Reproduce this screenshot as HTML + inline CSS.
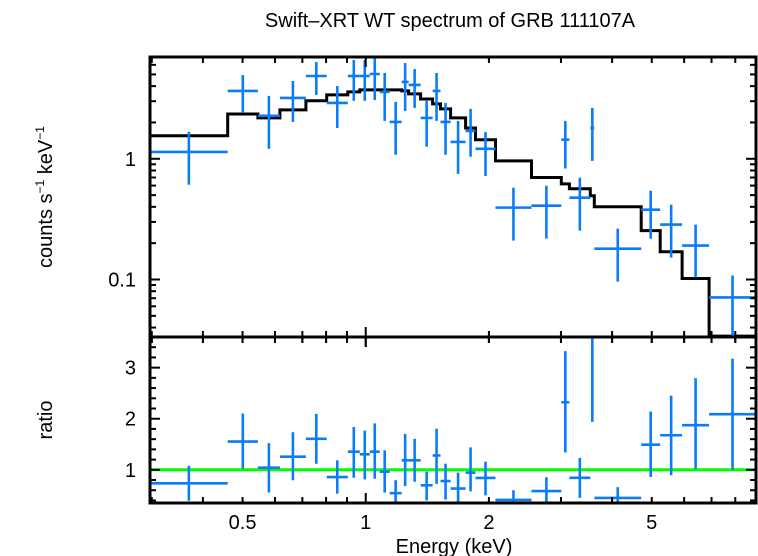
<!DOCTYPE html>
<html><head><meta charset="utf-8"><style>
html,body{margin:0;padding:0;background:#fff;}
svg{display:block;font-family:"Liberation Sans",sans-serif;}
</style></head><body>
<svg id="chart" width="758" height="556" viewBox="0 0 758 556">
<text x="450" y="27" text-anchor="middle" font-size="20">Swift–XRT WT spectrum of GRB 111107A</text>
<text transform="translate(52,197) rotate(-90)" text-anchor="middle" font-size="20">counts s<tspan font-size="12" dy="-8">−1</tspan><tspan dy="8"> keV</tspan><tspan font-size="12" dy="-8">−1</tspan></text>
<text transform="translate(52,420) rotate(-90)" text-anchor="middle" font-size="20">ratio</text>
<text x="454" y="553" text-anchor="middle" font-size="20">Energy (keV)</text>
<g id="plot"></g>
</svg>
<script>
// bin edges (keV)
const binEdges = [0.297,0.460,0.545,0.617,0.714,0.803,0.904,0.967,1.023,1.082,1.144,1.224,1.273,1.362,1.457,1.523,1.612,1.754,1.855,2.075,2.541,3.006,3.145,3.539,3.619,4.712,5.243,5.932,6.903,8.99];
// data counts s^-1 keV^-1
const dataVals = [1.14,3.65,2.27,3.19,4.85,2.90,4.85,4.85,5.04,3.58,2.02,4.33,4.09,2.18,3.65,2.02,1.38,1.70,1.21,0.394,0.409,1.44,0.476,1.80,0.180,0.379,0.285,0.191,0.071];
const dataHi = [1.67,4.94,3.32,4.41,6.33,4.01,6.58,6.58,7.10,5.14,2.96,6.21,5.54,3.02,5.14,2.90,2.06,2.59,1.67,0.576,0.598,2.06,0.697,2.64,0.264,0.544,0.417,0.285,0.108];
const dataLo = [0.61,2.40,1.21,2.02,3.38,1.80,3.02,3.02,3.07,2.06,1.08,2.49,2.64,1.26,2.06,1.08,0.75,1.04,0.72,0.210,0.218,0.83,0.254,0.96,0.096,0.218,0.152,0.104,0.034];
// folded model per bin
const modelVals = [1.55,2.35,2.18,2.54,3.02,3.38,3.58,3.72,3.72,3.72,3.72,3.65,3.45,3.13,2.85,2.59,2.18,1.80,1.44,0.96,0.70,0.62,0.565,0.495,0.40,0.254,0.170,0.102,0.034];
const xTicksMajor = [0.5,1,2,5];
const xTickLabels = ["0.5","1","2","5"];
const yTicksTop = [0.1,1];
const yTickLabelsTop = ["0.1","1"];
const yTicksRatio = [1,2,3];

const NS="http://www.w3.org/2000/svg";
const g=document.getElementById('plot');
const L=150,R=756,T1=57,B1=337,T2=337,B2=503;
const xMin=0.297,xMax=8.99;
const xs=e=>L+(Math.log10(e)-Math.log10(xMin))/(Math.log10(xMax)-Math.log10(xMin))*(R-L);
const yMin=0.0334,yMax=6.97;
const ys=v=>B1-(Math.log10(v)-Math.log10(yMin))/(Math.log10(yMax)-Math.log10(yMin))*(B1-T1);
const rMin=0.35,rMax=3.6;
const yr=v=>B2-(v-rMin)/(rMax-rMin)*(B2-T2);
const clipT=v=>Math.max(T1,Math.min(B1,v));
const clipR=v=>Math.max(T2,Math.min(B2,v));
function mk(tag,attrs){const e=document.createElementNS(NS,tag);for(const k in attrs)e.setAttribute(k,attrs[k]);g.appendChild(e);return e;}

let d='';
for(let i=0;i<modelVals.length;i++){
  const x0=xs(binEdges[i]),x1=xs(binEdges[i+1]),y=clipT(ys(modelVals[i]));
  d+=(i===0?'M':'L')+x0.toFixed(1)+','+y.toFixed(1)+'L'+x1.toFixed(1)+','+y.toFixed(1);
}
const ml=mk('path',{d:d,fill:'none',stroke:'#000','stroke-width':3});



const gl=mk('line',{x1:L,x2:R,y1:yr(1),y2:yr(1),stroke:'#00ff00','stroke-width':3});



for(let i=0;i<dataVals.length;i++){
  const x0=xs(binEdges[i]),x1=xs(binEdges[i+1]),xc=(x0+x1)/2;
  const grp=document.createElementNS(NS,'g');g.appendChild(grp);
  
  
  const add=(a)=>{const e=document.createElementNS(NS,'line');for(const k in a)e.setAttribute(k,a[k]);e.setAttribute('stroke','#0a7cf5');e.setAttribute('stroke-width',2.6);grp.appendChild(e);};
  const y=ys(dataVals[i]);
  add({x1:x0,x2:x1,y1:y,y2:y});
  add({x1:xc,x2:xc,y1:clipT(ys(dataHi[i])),y2:clipT(ys(dataLo[i]))});
  const m=modelVals[i],r=dataVals[i]/m,rh=dataHi[i]/m,rl=dataLo[i]/m;
  const grp2=document.createElementNS(NS,'g');g.appendChild(grp2);
  
  
  const add2=(a)=>{const e=document.createElementNS(NS,'line');for(const k in a)e.setAttribute(k,a[k]);e.setAttribute('stroke','#0a7cf5');e.setAttribute('stroke-width',2.6);grp2.appendChild(e);};
  if(r<=rMax&&r>=rMin) add2({x1:x0,x2:x1,y1:yr(r),y2:yr(r)});
  add2({x1:xc,x2:xc,y1:clipR(yr(rh)),y2:clipR(yr(rl))});
}

[[T1,B1,'spectrum-panel-frame'],[T2,B2,'ratio-panel-frame']].forEach(p=>{
  const r=mk('rect',{x:L,y:p[0],width:R-L,height:p[1]-p[0],fill:'none',stroke:'#000','stroke-width':3});
  
  
});

const tk=(x1,y1,x2,y2)=>mk('line',{x1:x1,y1:y1,x2:x2,y2:y2,stroke:'#000','stroke-width':2});
for(let dec=0.1;dec<10;dec*=10){for(let k=1;k<10;k++){const e=k*dec;if(e<xMin||e>xMax)continue;
  const x=xs(e);const len=(k===1)?10:6;
  [T1,B1,T2].forEach(yy=>{tk(x,yy,x,yy+len);});
  [B1,B2].forEach(yy=>{tk(x,yy,x,yy-len);});
}}
xTicksMajor.forEach((e,i)=>{const t=mk('text',{x:xs(e),y:529,'text-anchor':'middle','font-size':20});t.textContent=xTickLabels[i];
  
  });
for(let dec=0.01;dec<10;dec*=10){for(let k=1;k<10;k++){const v=k*dec;if(v<yMin||v>yMax)continue;
  const y=ys(v);const len=(k===1)?10:6;tk(L,y,L+len,y);tk(R,y,R-len,y);}}
yTicksTop.forEach((v,i)=>{const t=mk('text',{x:136,y:ys(v)+7,'text-anchor':'end','font-size':20});t.textContent=yTickLabelsTop[i];
  
  });
for(let v=0.4;v<=3.6;v+=0.2){const y=yr(v);const maj=Math.abs(v-Math.round(v))<0.01;const len=maj?10:6;tk(L,y,L+len,y);tk(R,y,R-len,y);}
yTicksRatio.forEach(v=>{const t=mk('text',{x:136,y:yr(v)+7,'text-anchor':'end','font-size':20});t.textContent=String(v);
  
  });
</script>
</body></html>
